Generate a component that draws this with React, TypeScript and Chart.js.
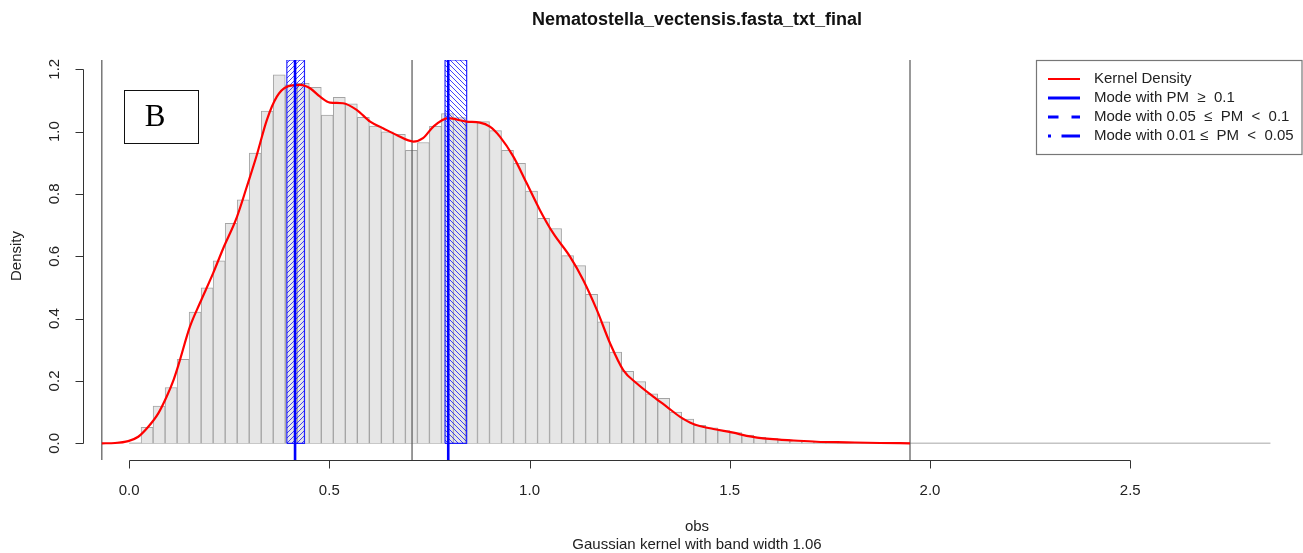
import React, { useEffect, useRef } from 'react';
import { Chart, registerables } from 'chart.js';

Chart.register(...registerables);

// ---------- data ----------
const histBinCenters = [
  0.045, 0.075, 0.105, 0.135, 0.165, 0.195, 0.225, 0.255, 0.285, 0.315,
  0.345, 0.375, 0.405, 0.435, 0.465, 0.495, 0.525, 0.555, 0.585, 0.615,
  0.645, 0.675, 0.705, 0.735, 0.765, 0.795, 0.825, 0.855, 0.885, 0.915,
  0.945, 0.975, 1.005, 1.035, 1.065, 1.095, 1.125, 1.155, 1.185, 1.215,
  1.245, 1.275, 1.305, 1.335, 1.365, 1.395, 1.425, 1.455, 1.485, 1.515,
  1.545, 1.575, 1.605, 1.635, 1.665, 1.695, 1.725, 1.755, 1.785, 1.815,
  1.845, 1.875, 1.905, 1.935,
];
const histDensity = [
  0.051, 0.119, 0.179, 0.269, 0.421, 0.499, 0.585, 0.706, 0.781, 0.931,
  1.066, 1.182, 1.15, 1.155, 1.142, 1.053, 1.11, 1.089, 1.046, 1.018,
  0.999, 0.991, 0.94, 0.965, 1.017, 1.058, 1.045, 1.03, 1.032, 1.003,
  0.94, 0.898, 0.809, 0.722, 0.689, 0.602, 0.57, 0.478, 0.39, 0.293,
  0.231, 0.198, 0.159, 0.144, 0.1, 0.078, 0.058, 0.05, 0.041, 0.034,
  0.026, 0.019, 0.015, 0.012, 0.009, 0.007, 0.005, 0.004, 0.003, 0.003,
  0.002, 0.002, 0.001, 0.001,
];
const histRange = [0, 2.85];

const densityX = [
  -0.068, -0.035, -0.002, 0.023, 0.048, 0.073, 0.094, 0.111, 0.123, 0.152,
  0.177, 0.21, 0.235, 0.269, 0.294, 0.319, 0.344, 0.369, 0.394, 0.427,
  0.452, 0.477, 0.502, 0.534, 0.569, 0.602, 0.634, 0.668, 0.71, 0.734,
  0.76, 0.797, 0.843, 0.876, 0.901, 0.926, 0.96, 0.993, 1.026, 1.059,
  1.101, 1.134, 1.168, 1.201, 1.234, 1.268, 1.309, 1.343, 1.376, 1.409,
  1.459, 1.509, 1.542, 1.6, 1.66, 1.717, 1.792, 1.875, 1.95,
];
const densityY = [
  0.0, 0.001, 0.007, 0.021, 0.053, 0.096, 0.15, 0.203, 0.25, 0.374,
  0.45, 0.546, 0.625, 0.725, 0.823, 0.925, 1.037, 1.112, 1.144, 1.15,
  1.139, 1.112, 1.093, 1.091, 1.069, 1.032, 1.011, 0.989, 0.968, 0.979,
  1.016, 1.043, 1.032, 1.029, 1.016, 0.984, 0.919, 0.834, 0.748, 0.674,
  0.599, 0.524, 0.428, 0.321, 0.235, 0.192, 0.15, 0.117, 0.085, 0.062,
  0.046, 0.034, 0.024, 0.014, 0.009, 0.005, 0.003, 0.001, 0.0,
];

const modeCenters = [0.4145, 0.797];
const modeLower = [0.394, 0.789];
const modeUpper = [0.438, 0.843];
const markerLines = [-0.068, 0.7066, 1.95];

const xTicks = [0, 0.5, 1, 1.5, 2, 2.5];
const xTickLabels = ['0.0', '0.5', '1.0', '1.5', '2.0', '2.5'];
const yTicks = [0, 0.2, 0.4, 0.6, 0.8, 1.0, 1.2];
const yTickLabels = ['0.0', '0.2', '0.4', '0.6', '0.8', '1.0', '1.2'];
const xRange = [-0.115, 2.9313];
const yRange = [-0.0536, 1.2297];

const titleText = 'Nematostella_vectensis.fasta_txt_final';
const xTitleLines = ['obs', 'Gaussian kernel with band width 1.06'];
const yTitleText = 'Density';
const panelLabel = 'B';
const legendLabels = [
  'Kernel Density',
  'Mode with PM  \u2265  0.1',
  'Mode with 0.05  \u2264  PM  <  0.1',
  'Mode with 0.01 \u2264  PM  <  0.05',
];

const FONT = '"Liberation Sans", Arial, Helvetica, sans-serif';

function makeHatch(dir: '/' | '\\'): CanvasPattern | string {
  const c = document.createElement('canvas');
  const s = 5;
  c.width = s;
  c.height = s;
  const g = c.getContext('2d');
  if (!g) return 'rgba(0,0,255,0.3)';
  g.strokeStyle = 'rgba(20,20,255,0.8)';
  g.lineWidth = 1;
  g.beginPath();
  if (dir === '/') {
    g.moveTo(-1, s + 1); g.lineTo(s + 1, -1);
    g.moveTo(-1, 1); g.lineTo(1, -1);
    g.moveTo(s - 1, s + 1); g.lineTo(s + 1, s - 1);
  } else {
    g.moveTo(-1, -1); g.lineTo(s + 1, s + 1);
    g.moveTo(-1, s - 1); g.lineTo(1, s + 1);
    g.moveTo(s - 1, -1); g.lineTo(s + 1, 1);
  }
  g.stroke();
  const p = document.createElement('canvas').getContext('2d')!.createPattern(c, 'repeat');
  return p || 'rgba(0,0,255,0.3)';
}

const rDecorPlugin = {
  id: 'rDecor',
  afterDraw(chart: any) {
    const { ctx, chartArea } = chart;
    const xs = chart.scales.x;
    const ys = chart.scales.y;
    ctx.save();
    ctx.strokeStyle = '#333';
    ctx.fillStyle = '#222';
    ctx.lineWidth = 1;

    // x axis (R style, spanning first to last tick)
    const axY = Math.round(chartArea.bottom) + 0.5;
    const x0 = Math.round(xs.getPixelForValue(xTicks[0])) + 0.5;
    const x1 = Math.round(xs.getPixelForValue(xTicks[xTicks.length - 1])) + 0.5;
    ctx.beginPath();
    ctx.moveTo(x0, axY);
    ctx.lineTo(x1, axY);
    xTicks.forEach((v) => {
      const px = Math.round(xs.getPixelForValue(v)) + 0.5;
      ctx.moveTo(px, axY);
      ctx.lineTo(px, axY + 8);
    });
    ctx.stroke();
    ctx.font = `15px ${FONT}`;
    ctx.textAlign = 'center';
    ctx.textBaseline = 'middle';
    xTicks.forEach((v, i) => {
      ctx.fillText(xTickLabels[i], xs.getPixelForValue(v), 491);
    });

    // y axis
    const axX = Math.round(chartArea.left) + 0.5;
    const yA = Math.round(ys.getPixelForValue(yTicks[0])) + 0.5;
    const yB = Math.round(ys.getPixelForValue(yTicks[yTicks.length - 1])) + 0.5;
    ctx.beginPath();
    ctx.moveTo(axX, yA);
    ctx.lineTo(axX, yB);
    yTicks.forEach((v) => {
      const py = Math.round(ys.getPixelForValue(v)) + 0.5;
      ctx.moveTo(axX, py);
      ctx.lineTo(axX - 8, py);
    });
    ctx.stroke();
    yTicks.forEach((v, i) => {
      ctx.save();
      ctx.translate(55, ys.getPixelForValue(v));
      ctx.rotate(-Math.PI / 2);
      ctx.fillText(yTickLabels[i], 0, 0);
      ctx.restore();
    });

    // axis titles
    const cx = 697;
    ctx.font = `15px ${FONT}`;
    ctx.fillText(xTitleLines[0], cx, 527);
    ctx.fillText(xTitleLines[1], cx, 545);
    ctx.save();
    ctx.translate(17, 256);
    ctx.rotate(-Math.PI / 2);
    ctx.fillText(yTitleText, 0, 0);
    ctx.restore();

    // main title
    ctx.font = `bold 18px ${FONT}`;
    ctx.fillStyle = '#111';
    ctx.fillText(titleText, cx, 20);

    // panel label box
    ctx.strokeStyle = '#111';
    ctx.lineWidth = 1;
    ctx.strokeRect(124.5, 90.5, 74, 53);
    ctx.font = `31px "Liberation Serif", "Times New Roman", serif`;
    ctx.fillStyle = '#000';
    ctx.fillText(panelLabel, 155, 118);

    // legend
    ctx.fillStyle = '#fff';
    ctx.fillRect(1036, 60, 266, 95);
    ctx.strokeStyle = '#777';
    ctx.lineWidth = 1.2;
    ctx.strokeRect(1036.5, 60.5, 265.5, 94);
    const rows = [79, 98, 117, 136];
    ctx.font = `15px ${FONT}`;
    ctx.textAlign = 'left';
    ctx.fillStyle = '#222';
    rows.forEach((ry, i) => {
      ctx.fillText(legendLabels[i], 1094, ry);
    });
    ctx.lineCap = 'butt';
    ctx.strokeStyle = '#ff0000';
    ctx.lineWidth = 2;
    ctx.beginPath();
    ctx.moveTo(1048, rows[0]);
    ctx.lineTo(1080, rows[0]);
    ctx.stroke();
    ctx.strokeStyle = '#0000ff';
    ctx.lineWidth = 3;
    ctx.beginPath();
    ctx.moveTo(1048, rows[1]);
    ctx.lineTo(1080, rows[1]);
    ctx.stroke();
    ctx.beginPath();
    ctx.moveTo(1048, rows[2]);
    ctx.lineTo(1058.5, rows[2]);
    ctx.moveTo(1071.5, rows[2]);
    ctx.lineTo(1080, rows[2]);
    ctx.stroke();
    ctx.beginPath();
    ctx.moveTo(1048, rows[3]);
    ctx.lineTo(1051, rows[3]);
    ctx.moveTo(1061.5, rows[3]);
    ctx.lineTo(1080, rows[3]);
    ctx.stroke();

    ctx.restore();
  },
};

export default function App() {
  const canvasRef = useRef<HTMLCanvasElement | null>(null);

  useEffect(() => {
    const canvas = canvasRef.current;
    if (!canvas) return;
    const hatchDirs: ('/' | '\\')[] = ['/', '\\'];

    const datasets: any[] = [];

    datasets.push({
      type: 'line',
      data: [{ x: histRange[0], y: 0 }, { x: histRange[1], y: 0 }],
      borderColor: '#c4c4c4',
      borderWidth: 1.5,
      pointRadius: 0,
      fill: false,
      order: 12,
    });

    datasets.push({
      type: 'bar',
      data: histBinCenters.map((c, i) => ({ x: c, y: histDensity[i] })),
      backgroundColor: '#e6e6e6',
      borderColor: '#a4a4a4',
      borderWidth: 1,
      barPercentage: 1,
      categoryPercentage: 1,
      grouped: false,
      order: 11,
    });

    modeLower.forEach((lo, i) => {
      const hi = modeUpper[i];
      datasets.push({
        type: 'line',
        data: [{ x: lo, y: yRange[1] }, { x: hi, y: yRange[1] }],
        borderColor: 'rgba(0,0,0,0)',
        borderWidth: 1,
        pointRadius: 0,
        fill: 'origin',
        backgroundColor: makeHatch(hatchDirs[i]),
        order: 9,
      });
      datasets.push({
        type: 'line',
        data: [
          { x: lo, y: 0 }, { x: lo, y: yRange[1] },
          { x: hi, y: yRange[1] }, { x: hi, y: 0 }, { x: lo, y: 0 },
        ],
        borderColor: 'rgba(0,0,255,0.85)',
        borderWidth: 1.2,
        pointRadius: 0,
        fill: false,
        order: 8,
      });
    });

    markerLines.forEach((v) => {
      datasets.push({
        type: 'line',
        data: [{ x: v, y: yRange[0] }, { x: v, y: yRange[1] }],
        borderColor: '#555555',
        borderWidth: 1.2,
        pointRadius: 0,
        fill: false,
        order: 7,
      });
    });

    datasets.push({
      type: 'line',
      label: 'Kernel Density',
      data: densityX.map((x, i) => ({ x, y: densityY[i] })),
      borderColor: '#ff0000',
      borderWidth: 2.2,
      pointRadius: 0,
      fill: false,
      cubicInterpolationMode: 'monotone',
      order: 5,
    });

    modeCenters.forEach((v) => {
      datasets.push({
        type: 'line',
        data: [{ x: v, y: yRange[0] }, { x: v, y: yRange[1] }],
        borderColor: '#0000ff',
        borderWidth: 2.6,
        pointRadius: 0,
        fill: false,
        order: 3,
      });
    });

    const chart = new Chart(canvas, {
      type: 'bar',
      data: { datasets },
      options: {
        responsive: false,
        animation: false,
        events: [],
        layout: { padding: { left: 83, right: 0, top: 60, bottom: 93 } },
        plugins: {
          legend: { display: false },
          title: { display: false },
          tooltip: { enabled: false },
        },
        scales: {
          x: { type: 'linear', min: xRange[0], max: xRange[1], display: false, offset: false },
          y: { type: 'linear', min: yRange[0], max: yRange[1], display: false },
        },
      },
      plugins: [rDecorPlugin],
    } as any);

    return () => chart.destroy();
  }, []);

  return (
    <div style={{ position: 'absolute', left: 0, top: 0, width: 1303, height: 553, background: '#fff' }}>
      <canvas ref={canvasRef} width={1303} height={553} style={{ display: 'block' }} />
    </div>
  );
}
